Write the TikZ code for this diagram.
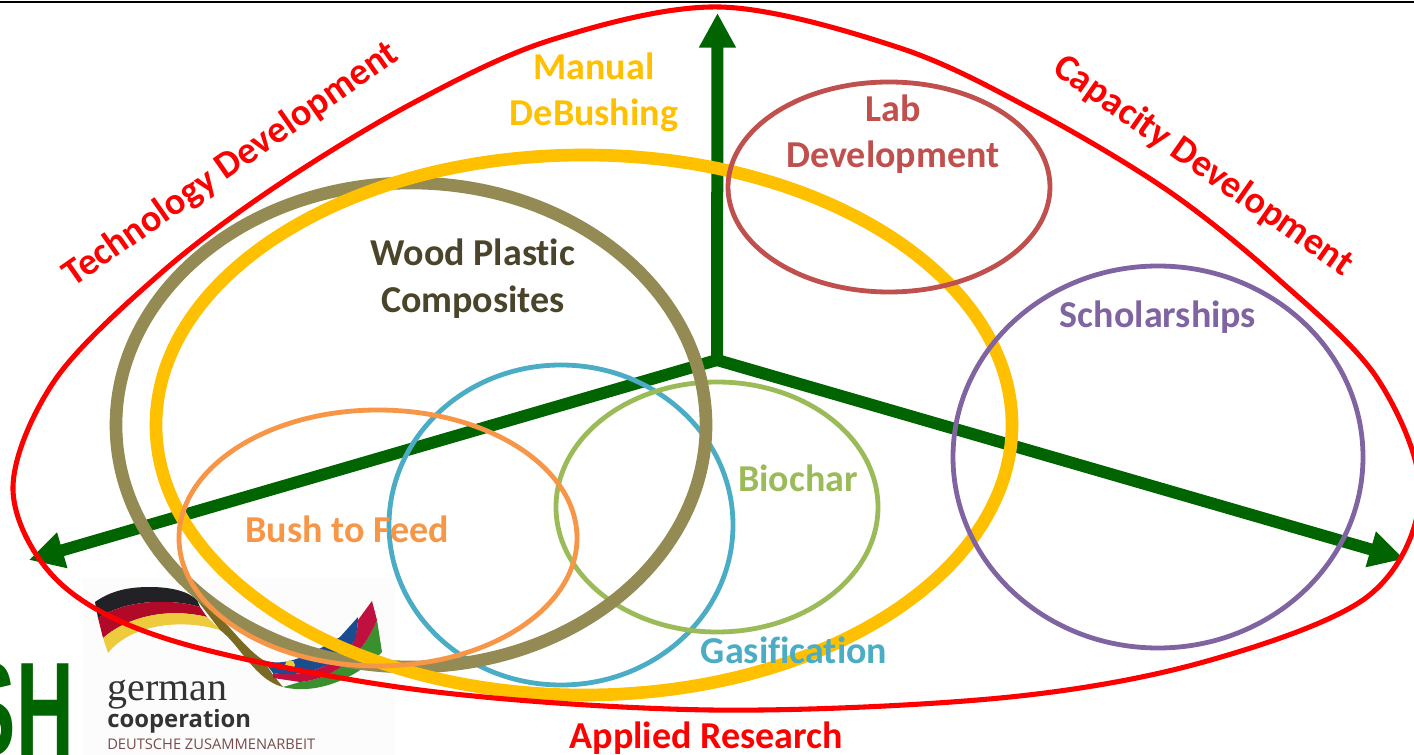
\documentclass[tikz,border=0pt]{standalone}
\usepackage{fontspec}
\setmainfont{Carlito}[Ligatures={NoCommon,NoRequired}]
\newfontfamily\heros{Liberation Sans}
\newfontfamily\serifl{Liberation Serif}
\newfontfamily\fira{Open Sans}
\usetikzlibrary{arrows.meta}
\definecolor{axisgreen}{HTML}{006400}
\definecolor{goldc}{HTML}{FFC000}
\definecolor{olivec}{HTML}{948A54}
\definecolor{labc}{HTML}{C0504D}
\definecolor{purc}{HTML}{8064A2}
\definecolor{bluec}{HTML}{4BACC6}
\definecolor{grnc}{HTML}{9BBB59}
\definecolor{orgc}{HTML}{F79646}
\definecolor{woodc}{HTML}{4A452A}
\definecolor{flagblack}{HTML}{222226}
\definecolor{flagred}{HTML}{B00A28}
\definecolor{flagyel}{HTML}{EDCB3C}
\definecolor{flagbrown}{HTML}{7A6A22}
\definecolor{flaggreen}{HTML}{3A8F2E}
\definecolor{flagcrim}{HTML}{C0103F}
\definecolor{flagblue}{HTML}{1B4C8F}
\tikzset{
  x=0.75pt,y=-0.75pt,
  lbl/.style={font=\bfseries\fontsize{28.5}{35}\selectfont,align=center,inner sep=0pt},
  axisarrow/.style={draw=axisgreen,line width=9pt,-{Triangle[width=26pt,length=26pt]}},
  ring/.style={line width=3.6pt},
  thickring/.style={line width=9.5pt},
}
\begin{document}
\begin{tikzpicture}
\useasboundingbox (0,0) rectangle (1414,755);
\clip (0,0) rectangle (1414,755);
\fill[white] (0,0) rectangle (1414,755);
\draw[black,line width=1.5pt] (0,2.5) -- (1414,2.5);
% logo
\fill[black!1] (82,578) rectangle (395,755);
\fill[flagblack] (95,602) .. controls (112,590) and (130,587) .. (150,587) .. controls (170,587) and (188,591) .. (197,600) -- (200,607) .. controls (170,598) and (125,600) .. (98,618) -- cycle;
\fill[flagred] (98,618) .. controls (125,600) and (170,598) .. (200,607) -- (207,617) .. controls (170,608) and (130,615) .. (103,638) -- cycle;
\fill[flagyel] (103,638) .. controls (130,615) and (170,608) .. (207,617) -- (220,630) .. controls (180,618) and (130,625) .. (108,653) -- cycle;
\fill[flagbrown] (197,600) .. controls (220,610) and (240,645) .. (263,660) -- (273,675) -- (283,687) .. controls (255,680) and (240,645) .. (220,630) -- cycle;
\fill[flaggreen] (283,687) .. controls (315,695) and (355,680) .. (382,652) -- (377,620) .. controls (365,650) and (340,678) .. (300,682) -- cycle;
\fill[flagcrim] (372,601) -- (377,620) .. controls (365,650) and (340,678) .. (300,682) -- (273,678) -- (273,673) .. controls (300,678) and (335,668) .. (353,643) .. controls (357,632) and (358,625) .. (358,620) -- cycle;
\fill[flagblue] (263,660) .. controls (285,668) and (310,655) .. (340,637) -- (358,617) .. controls (358,630) and (355,640) .. (353,643) .. controls (335,668) and (300,678) .. (273,673) -- cycle;
\fill[flagyel] (290,665) circle [radius=5];
\node[font=\serifl\fontsize{30}{30}\selectfont,text=black!80,anchor=base west,inner sep=0pt] (german) at (107,700) {german};
\node[font=\fira\bfseries\fontsize{17.9}{18}\selectfont,text=black!80,anchor=base west,inner sep=0pt] (coop) at (107,727) {cooperation};
\node[font=\fira\fontsize{11}{11}\selectfont,text=red!25!black!70,anchor=base west,inner sep=0pt] (dz) at (107,749) {DEUTSCHE ZUSAMMENARBEIT};
\node[font=\heros\bfseries\fontsize{100}{100}\selectfont,text=axisgreen,anchor=base east,inner sep=0pt,xscale=0.6] (sh) at (74,755) {SH};
% axes
\coordinate (o) at (717,360);
\coordinate (up) at (717.5,13);
\coordinate (lft) at (29,560);
\coordinate (rgt) at (1404,559);
\draw[axisarrow] (o) -- (up);
\draw[axisarrow] (o) -- (lft);
\draw[axisarrow] (o) -- (rgt);
% rings
\draw[bluec,ring] (561,525) ellipse [x radius=172,y radius=160];
\draw[grnc,ring] (717,507) ellipse [x radius=161,y radius=125];
\draw[olivec,thickring] (411,425) ellipse [x radius=295,y radius=242];
\draw[goldc,thickring] (584,425) ellipse [x radius=428,y radius=270];
\draw[orgc,ring] (378,538) ellipse [x radius=199,y radius=128];
\draw[labc,ring] (889,187) ellipse [x radius=161,y radius=105];
\draw[purc,ring] (1158,457) ellipse [x radius=205,y radius=191];
% outer
\draw[red,line width=3.8pt] plot[smooth cycle,tension=0.55] coordinates {(720,7) (900,48) (1033,110) (1167,190) (1277,278) (1377,378) (1420,495) (1367,597) (1200,663) (1000,698) (711,710) (420,690) (177,642) (60,583) (13,490) (55,380) (161,273) (275,187) (413,103) (551,40)};
% labels
\node[lbl,text=orgc] (feed) at (347,529) {Bush to Feed};
\node[lbl,text=bluec] (gas) at (794,650) {Gasification};
\node[lbl,text=goldc] (man) at (594,92.5) {Manual\\DeBushing};
\node[lbl,text=labc] (lab) at (893,134) {Lab\\Development};
\node[lbl,text=woodc] (wood) at (473,278.5) {Wood Plastic\\Composites};
\node[lbl,text=purc] (sch) at (1158,317) {Scholarships};
\node[lbl,text=grnc] (bio) at (798,478) {Biochar};
\node[lbl,text=red] (app) at (706,738) {Applied Research};
\node[lbl,text=red,rotate=35] (tech) at (231,165) {Technology Development};
\node[lbl,text=red,rotate=-35] (cap) at (1203,166) {Capacity Development};
\end{tikzpicture}
\end{document}
